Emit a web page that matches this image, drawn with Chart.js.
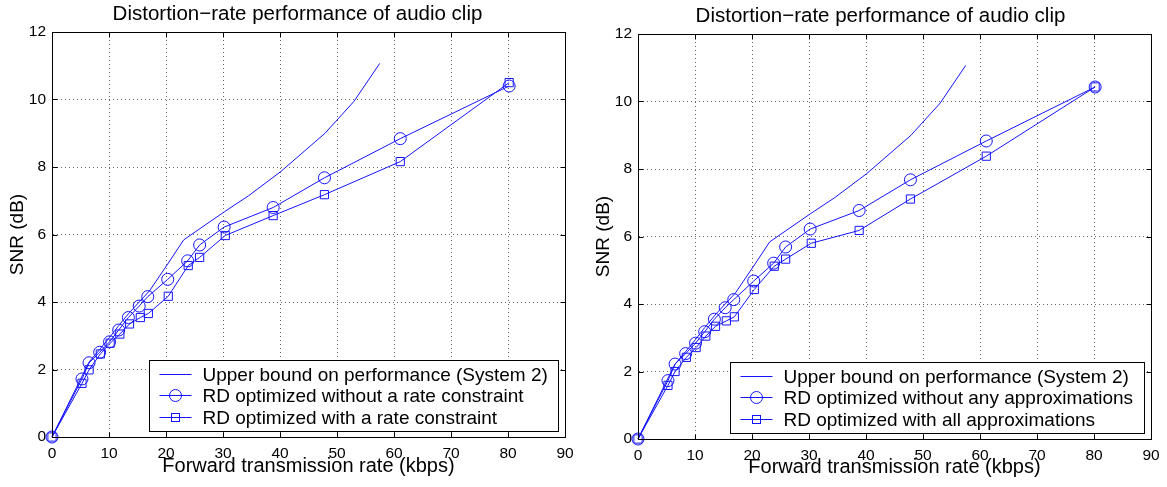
<!DOCTYPE html>
<html>
<head>
<meta charset="utf-8">
<script src="https://cdn.jsdelivr.net/npm/chart.js@4.4.1/dist/chart.umd.min.js"></script>
<style>
  html, body { margin: 0; padding: 0; background: #fff; }
  #wrap { position: relative; width: 1167px; height: 487px; overflow: hidden; }
  canvas { position: absolute; top: 0; }
  #chartA { left: 0; }
  #chartB { left: 586px; }
</style>
</head>
<body>
<div id="wrap">
  <canvas id="chartA" width="583" height="487"></canvas>
  <canvas id="chartB" width="581" height="487"></canvas>
</div>
<script>
'use strict';

// axis ticks
var xTicks = [0, 10, 20, 30, 40, 50, 60, 70, 80, 90];
var yTicks = [0, 2, 4, 6, 8, 10, 12];

// upper bound (System 2), same in both panels
var rateUpper = [0, 5.2, 6.5, 8.4, 10.1, 11.7, 13.5, 15.3, 17.1, 20.2, 23.1, 30.3, 34.5, 40.1, 47.9, 53.0, 57.5];
var snrUpper  = [0, 1.78, 2.22, 2.6, 2.95, 3.3, 3.67, 4.0, 4.33, 5.1, 5.84, 6.68, 7.15, 7.86, 9.0, 9.95, 11.07];

// rates of the RD optimized points
var rateCircle = [0, 5.26, 6.5, 8.36, 10.1, 11.7, 13.4, 15.3, 16.8, 20.3, 23.8, 25.9, 30.2, 38.8, 47.8, 61.1, 80.2];
var rateSquare = [0, 5.26, 6.5, 8.48, 10.2, 11.9, 13.6, 15.5, 16.9, 20.4, 23.9, 25.9, 30.4, 38.8, 47.8, 61.1, 80.2];

// left panel
var snrLeftCircle = [0, 1.72, 2.20, 2.51, 2.82, 3.17, 3.54, 3.88, 4.16, 4.67, 5.22, 5.69, 6.22, 6.80, 7.68, 8.84, 10.40];
var snrLeftSquare = [0, 1.59, 1.99, 2.46, 2.78, 3.05, 3.35, 3.54, 3.66, 4.17, 5.08, 5.32, 5.97, 6.56, 7.18, 8.16, 10.50];

// right panel
var snrRightCircle = [0, 1.73, 2.22, 2.53, 2.84, 3.18, 3.55, 3.89, 4.13, 4.68, 5.21, 5.69, 6.22, 6.77, 7.68, 8.83, 10.43];
var snrRightSquare = [0, 1.59, 2.00, 2.42, 2.71, 3.05, 3.34, 3.50, 3.62, 4.43, 5.12, 5.33, 5.80, 6.18, 7.11, 8.38, 10.43];

var labelsLeft  = ['Upper bound on performance (System 2)', 'RD optimized without a rate constraint', 'RD optimized with a rate constraint'];
var labelsRight = ['Upper bound on performance (System 2)', 'RD optimized without any approximations', 'RD optimized with all approximations'];

var BLUE = 'rgb(20,20,255)';
var FONT = '"Liberation Sans", Arial, Helvetica, sans-serif';

Chart.defaults.font.family = FONT;
Chart.defaults.color = '#000';

function pairs(xs, ys) {
    return xs.map(function (x, i) { return { x: x, y: ys[i] }; });
}

// nudge the title sideways (it sits a bit left of the axes centre)
var titleShift = {
    id: 'titleShift',
    afterLayout: function (chart, args, opts) {
        var t = chart.titleBlock;
        if (t) {
            t.left += opts.dx;
            t.right += opts.dx;
        }
    }
};

// box, inward ticks
var frame = {
    id: 'frame',
    afterDraw: function (chart) {
        var ctx = chart.ctx;
        var a = chart.chartArea;
        var sx = chart.scales.x;
        var sy = chart.scales.y;
        var L = Math.round(a.left) + 0.5, R = Math.round(a.right) + 0.5;
        var T = Math.round(a.top) + 0.5, B = Math.round(a.bottom) + 0.5;
        ctx.save();
        ctx.strokeStyle = '#000';
        ctx.lineWidth = 1;
        ctx.setLineDash([]);
        ctx.beginPath();
        xTicks.forEach(function (v) {
            var px = Math.round(sx.getPixelForValue(v)) + 0.5;
            ctx.moveTo(px, B); ctx.lineTo(px, B - 5);
            ctx.moveTo(px, T); ctx.lineTo(px, T + 5);
        });
        yTicks.forEach(function (v) {
            var py = Math.round(sy.getPixelForValue(v)) + 0.5;
            ctx.moveTo(L, py); ctx.lineTo(L + 5, py);
            ctx.moveTo(R, py); ctx.lineTo(R - 5, py);
        });
        ctx.stroke();
        ctx.strokeRect(L, T, R - L, B - T);
        ctx.restore();
    }
};

// legend box inside the axes, lower right
var boxLegend = {
    id: 'boxLegend',
    afterDraw: function (chart, args, opts) {
        var ctx = chart.ctx;
        var a = chart.chartArea;
        var sets = chart.data.datasets;
        ctx.save();
        ctx.font = opts.fontSize + 'px ' + FONT;
        var maxW = 0;
        sets.forEach(function (ds) { maxW = Math.max(maxW, ctx.measureText(ds.label).width); });
        var w = Math.round(10 + 32 + 11 + maxW + 11);
        var h = opts.height;
        var x0 = Math.round(a.right - opts.right - w) + 0.5;
        var y0 = Math.round(a.bottom - opts.bottom - h) + 0.5;
        ctx.fillStyle = '#fff';
        ctx.fillRect(x0, y0, w, h);
        ctx.strokeStyle = '#000';
        ctx.lineWidth = 1;
        ctx.strokeRect(x0, y0, w, h);

        sets.forEach(function (ds, i) {
            var cy = Math.round(y0 + opts.first + i * opts.row) + 0.5;
            ctx.strokeStyle = BLUE;
            ctx.beginPath();
            ctx.moveTo(x0 + 10, cy);
            ctx.lineTo(x0 + 42, cy);
            ctx.stroke();
            var mx = x0 + 26;
            if (ds.pointStyle === 'circle' && ds.pointRadius > 0) {
                ctx.beginPath();
                ctx.arc(mx, cy, 6, 0, Math.PI * 2);
                ctx.stroke();
            } else if (ds.pointStyle === 'rect') {
                ctx.strokeRect(mx - 4, cy - 4, 8, 8);
            }
            ctx.fillStyle = '#000';
            ctx.textBaseline = 'middle';
            ctx.textAlign = 'left';
            ctx.fillText(ds.label, x0 + 53, cy + 1);
        });
        ctx.restore();
    }
};

function makeChart(id, g, labels, snrCircle, snrSquare) {
    var line = { showLine: true, tension: 0, borderColor: BLUE, borderWidth: 1, clip: false,
                 pointBackgroundColor: 'rgba(0,0,0,0)', pointBorderColor: BLUE, pointBorderWidth: 1 };

    return new Chart(document.getElementById(id), {
        type: 'scatter',
        data: {
            datasets: [
                Object.assign({}, line, { label: labels[0], data: pairs(rateUpper, snrUpper), pointRadius: 0, pointHoverRadius: 0, pointStyle: 'line' }),
                Object.assign({}, line, { label: labels[1], data: pairs(rateCircle, snrCircle), pointRadius: 6, pointStyle: 'circle' }),
                Object.assign({}, line, { label: labels[2], data: pairs(rateSquare, snrSquare), pointRadius: 5.8, pointStyle: 'rect' })
            ]
        },
        options: {
            responsive: false,
            animation: false,
            events: [],
            layout: { padding: { left: 0, right: g.padRight, top: 0, bottom: 0 } },
            plugins: {
                legend: { display: false },
                tooltip: { enabled: false },
                title: {
                    display: true,
                    fullSize: false,
                    text: 'Distortion\u2212rate performance of audio clip',
                    color: '#000',
                    font: { size: 20.5, weight: 'normal', lineHeight: 1.2 },
                    padding: { top: g.titleTop, bottom: g.titleBottom }
                },
                titleShift: { dx: g.titleDx },
                boxLegend: { fontSize: 19, height: 71, first: 13.5, row: 21.3, right: 7, bottom: 6 }
            },
            scales: {
                x: {
                    type: 'linear',
                    min: 0,
                    max: 90,
                    afterBuildTicks: function (s) { s.ticks = xTicks.map(function (v) { return { value: v }; }); },
                    afterFit: function (s) { s.height = g.xHeight; },
                    grid: { color: 'rgba(0,0,0,0.6)', drawTicks: false, lineWidth: 1 },
                    border: { display: true, color: '#000', dash: [1, 3] },
                    ticks: { font: { size: 15.5 }, padding: 7, color: '#000', maxRotation: 0 },
                    title: { display: true, text: 'Forward transmission rate (kbps)', color: '#000',
                             font: { size: 20 }, padding: { top: 0, bottom: g.xTitleBottom } }
                },
                y: {
                    type: 'linear',
                    min: 0,
                    max: 12,
                    afterBuildTicks: function (s) { s.ticks = yTicks.map(function (v) { return { value: v }; }); },
                    afterFit: function (s) { s.width = 52; },
                    grid: { color: 'rgba(0,0,0,0.6)', drawTicks: false, lineWidth: 1 },
                    border: { display: true, color: '#000', dash: [1, 3] },
                    ticks: { font: { size: 15.5 }, padding: 6, color: '#000' },
                    title: { display: true, text: 'SNR (dB)', color: '#000',
                             font: { size: 19 }, padding: { top: 6, bottom: 0 } }
                }
            }
        },
        plugins: [titleShift, frame, boxLegend]
    });
}

makeChart('chartA', { padRight: 18, titleTop: 2, titleBottom: 5.4, titleDx: -11, xHeight: 50, xTitleBottom: 9 },
          labelsLeft, snrLeftCircle, snrLeftSquare);
makeChart('chartB', { padRight: 16, titleTop: 4, titleBottom: 5.4, titleDx: -14, xHeight: 48, xTitleBottom: 8 },
          labelsRight, snrRightCircle, snrRightSquare);
</script>
</body>
</html>
